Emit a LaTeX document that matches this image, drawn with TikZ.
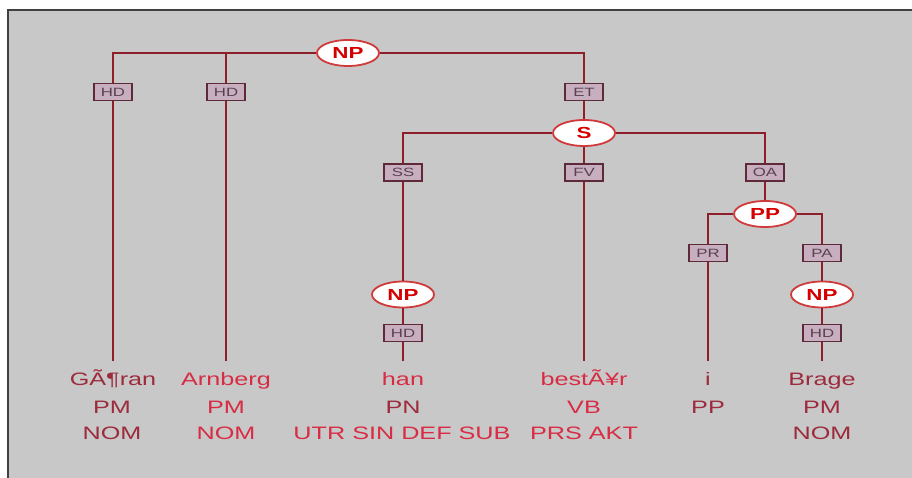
\documentclass[tikz,border=0pt]{standalone}
\usepackage{fontspec}
\setmainfont{Liberation Sans}
\newfontfamily\wfont[FakeStretch=1.4]{Liberation Sans}
\usetikzlibrary{shapes.geometric}
\definecolor{bg}{HTML}{C8C8C8}
\definecolor{edge}{HTML}{8E1F2A}
\definecolor{ellline}{HTML}{D03A3A}
\definecolor{elltext}{HTML}{D40000}
\definecolor{boxfill}{HTML}{C8AFC0}
\definecolor{boxline}{HTML}{5E2A3A}
\definecolor{boxtext}{HTML}{5A4050}
\definecolor{wdark}{HTML}{9C2B3C}
\definecolor{wbright}{HTML}{D82C44}
\begin{document}
\begin{tikzpicture}[x=1pt,y=-1pt,
  cat/.style={ellipse, draw=ellline, line width=1.8pt, fill=white, minimum width=62pt, minimum height=26pt, inner sep=0pt, font=\wfont\fontsize{16}{16}\selectfont\bfseries, text=elltext},
  fn/.style={rectangle, draw=boxline, line width=1.2pt, fill=boxfill, minimum width=38pt, minimum height=17pt, inner sep=0pt, font=\wfont\fontsize{12}{12}\selectfont, text=boxtext},
  word/.style={anchor=base, inner sep=0pt, text height=24pt, font=\wfont\fontsize{18}{18}\selectfont},
  tag/.style={anchor=base, inner sep=0pt, font=\wfont\fontsize{18}{18}\selectfont},
  link/.style={draw=edge, line width=1.6pt}]
\useasboundingbox (0,0) rectangle (912,478);
\fill[white] (0,0) rectangle (912,478);
\fill[bg] (7,10) rectangle (912,478);
\draw[line width=2pt, color=black!75] (7.5,478) -- (7.5,10.5) -- (912,10.5);

% category nodes
\node[cat] (np1) at (348,53) {NP};
\node[cat] (s1) at (584,133) {S};
\node[cat] (pp1) at (765,214) {PP};
\node[cat] (np2) at (403,294.5) {NP};
\node[cat] (np3) at (822,294.5) {NP};

% function labels
\node[fn] (hd1) at (113,92) {HD};
\node[fn] (hd2) at (226,92) {HD};
\node[fn] (et) at (584,92) {ET};
\node[fn] (ss) at (403,172.5) {SS};
\node[fn] (fv) at (584,172.5) {FV};
\node[fn] (oa) at (765,172.5) {OA};
\node[fn] (pr) at (708,253) {PR};
\node[fn] (pa) at (822,253) {PA};
\node[fn] (hd3) at (403,333) {HD};
\node[fn] (hd4) at (822,333) {HD};

% words
\node[word, text=wdark] (w1) at (113,385) {GÃ¶ran};
\node[word, text=wbright] (w2) at (226,385) {Arnberg};
\node[word, text=wbright] (w3) at (403,385) {han};
\node[word, text=wbright] (w4) at (584,385) {bestÃ¥r};
\node[word, text=wdark] (w5) at (708,385) {i};
\node[word, text=wdark] (w6) at (822,385) {Brage};

% part of speech
\node[tag, text=wdark] (p1) at (112,413) {PM};
\node[tag, text=wbright] (p2) at (226,413) {PM};
\node[tag, text=wdark] (p3) at (403,413) {PN};
\node[tag, text=wbright] (p4) at (584,413) {VB};
\node[tag, text=wdark] (p5) at (708,413) {PP};
\node[tag, text=wdark] (p6) at (822,413) {PM};

% morphology
\node[tag, text=wdark] (m1) at (112,439) {NOM};
\node[tag, text=wbright] (m2) at (226,439) {NOM};
\node[tag, text=wbright] (m3) at (402,439) {UTR SIN DEF SUB};
\node[tag, text=wbright] (m4) at (584,439) {PRS AKT};
\node[tag, text=wdark] (m6) at (822,439) {NOM};

% connectors
\draw[link] (np1.west) -| (hd1.north);
\draw[link] (np1.west) -| (hd2.north);
\draw[link] (np1.east) -| (et.north);
\draw[link] (hd1.south) -- (w1.north);
\draw[link] (hd2.south) -- (w2.north);
\draw[link] (et.south) -- (s1.north);
\draw[link] (s1.west) -| (ss.north);
\draw[link] (s1.south) -- (fv.north);
\draw[link] (s1.east) -| (oa.north);
\draw[link] (ss.south) -- (np2.north);
\draw[link] (np2.south) -- (hd3.north);
\draw[link] (hd3.south) -- (w3.north);
\draw[link] (fv.south) -- (w4.north);
\draw[link] (oa.south) -- (pp1.north);
\draw[link] (pp1.west) -| (pr.north);
\draw[link] (pp1.east) -| (pa.north);
\draw[link] (pr.south) -- (w5.north);
\draw[link] (pa.south) -- (np3.north);
\draw[link] (np3.south) -- (hd4.north);
\draw[link] (hd4.south) -- (w6.north);
\end{tikzpicture}
\end{document}
